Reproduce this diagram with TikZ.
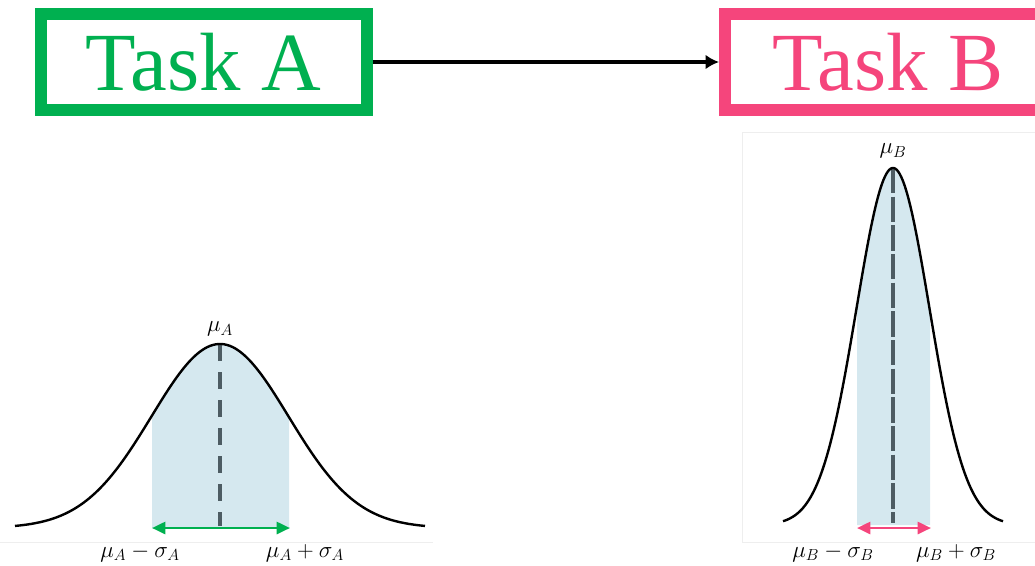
\documentclass[tikz,border=0pt]{standalone}
\usepackage{fontspec}
\setmainfont{Liberation Serif}
\usetikzlibrary{arrows.meta}
\definecolor{tgreen}{HTML}{00B050}
\definecolor{tpink}{HTML}{F5457C}
\definecolor{bellfill}{HTML}{D5E8EF}
\definecolor{dashc}{HTML}{4D5C63}
\definecolor{framec}{HTML}{EEEEEE}
\begin{document}
\begin{tikzpicture}[x=0.75pt,y=-0.75pt,
  taskbox/.style={draw,line width=9pt,inner sep=0pt,minimum width=244.5pt,minimum height=72pt,font=\fontsize{62}{70}\selectfont},
  curve/.style={line width=1.8pt,black},
  meanline/.style={dashc,line width=3pt},
  lbl/.style={inner sep=0pt,font=\fontsize{18}{21}\selectfont}]
\useasboundingbox (0,0) rectangle (1035,565);
% faint image frames
\draw[framec,line width=0.75pt] (0,542) -- (433,542);
\draw[framec,line width=0.75pt] (1040,132) -- (742,132) -- (742,542) -- (1040,542);
% task boxes
\node[taskbox,tgreen] (A) at (203.5,62) {Task A};
\begin{scope}
\clip (0,0) rectangle (1035,565);
\node[taskbox,tpink] (B) at (888,62) {Task B};
\end{scope}
\draw[line width=3pt,-{Latex[length=10pt,width=11pt]}] (A.east) -- (B.west);
% ---- Gaussian A
\fill[bellfill] (152,528) -- plot[domain=152:289,samples=60] (\x,{528-184*exp(-0.5*((\x-220)/68.5)^2)}) -- (289,528) -- cycle;
\draw[meanline,dash pattern=on 13pt off 8pt] (220,344) -- (220,526);
\draw[curve] plot[domain=15:425,samples=150,smooth] (\x,{528-184*exp(-0.5*((\x-220)/68.5)^2)});
\coordinate (aL) at (152,528);
\coordinate (aR) at (290,528);
\draw[tgreen,line width=2pt,{Triangle[length=10pt,width=9pt]}-{Triangle[length=10pt,width=9pt]}] (aL) -- (aR);
\node[lbl] (muA) at (220,329) {$\mu_A$};
\node[lbl] (muAm) at (140,553) {$\mu_A-\sigma_A$};
\node[lbl] (muAp) at (305,553) {$\mu_A+\sigma_A$};
% ---- Gaussian B
\fill[bellfill] (857,525) -- plot[domain=857:930,samples=60] (\x,{525-357*exp(-0.5*((\x-893)/36.5)^2)}) -- (930,525) -- cycle;
\draw[meanline,line width=2.4pt,dash pattern=on 19pt off 2.5pt] (893,168) -- (893,523);
\draw[curve] plot[domain=783:1003,samples=150,smooth] (\x,{525-357*exp(-0.5*((\x-893)/36.5)^2)});
\coordinate (bL) at (857,528);
\coordinate (bR) at (931,528);
\draw[tpink,line width=2pt,{Triangle[length=10pt,width=9pt]}-{Triangle[length=10pt,width=9pt]}] (bL) -- (bR);
\node[lbl] (muB) at (893,151) {$\mu_B$};
\node[lbl] (muBm) at (833,553) {$\mu_B-\sigma_B$};
\node[lbl] (muBp) at (956,553) {$\mu_B+\sigma_B$};
\end{tikzpicture}
\end{document}
